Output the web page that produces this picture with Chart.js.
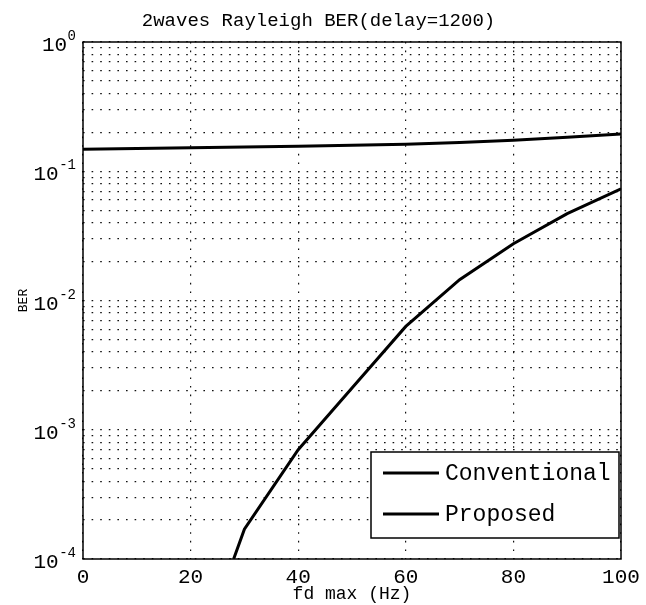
<!DOCTYPE html>
<html><head><meta charset="utf-8">
<script src="https://cdn.jsdelivr.net/npm/chart.js@4"></script>
<style>html,body{margin:0;padding:0;background:#fff}canvas{display:block}</style>
</head><body>
<canvas id="c" width="646" height="605"></canvas>
<script>
const titleText = '2waves Rayleigh BER(delay=1200)';
const xTitle = 'fd max (Hz)';
const yTitle = 'BER';
const seriesNames = ['Conventional', 'Proposed'];
const fdConv = [0, 10, 20, 30, 40, 50, 60, 70, 80, 90, 100];
const berConv = [0.148, 0.150, 0.152, 0.154, 0.156, 0.159, 0.162, 0.167, 0.174, 0.183, 0.194];
const fdProp = [28, 30, 40, 50, 60, 70, 80, 90, 100];
const berProp = [1.0e-4, 1.7e-4, 7.0e-4, 2.1e-3, 6.3e-3, 1.45e-2, 2.75e-2, 4.7e-2, 7.3e-2];
const xTicks = [0, 20, 40, 60, 80, 100];
const yDecades = [1e-4, 1e-3, 1e-2, 1e-1, 1];
const yTickBase = '10';
const yTickExp = ['-4', '-3', '-2', '-1', '0'];

const MONO = '"Liberation Mono", "Courier New", monospace';

const frame = {
  id: 'frame',
  afterDatasetsDraw(chart) {
    const {ctx, chartArea: a} = chart;
    ctx.save();
    ctx.strokeStyle = '#000';
    ctx.lineWidth = 1.5;
    ctx.strokeRect(a.left, a.top, a.right - a.left, a.bottom - a.top);
    ctx.restore();
  }
};

// y tick labels drawn as "10" with a raised exponent, positioned by the log scale
const powerLabels = {
  id: 'powerLabels',
  afterDraw(chart) {
    const {ctx, chartArea: a} = chart;
    const ys = chart.scales.y;
    ctx.save();
    ctx.fillStyle = '#000';
    ctx.textBaseline = 'middle';
    ctx.textAlign = 'right';
    yDecades.forEach((d, i) => {
      const py = ys.getPixelForValue(d);
      const ex = yTickExp[i];
      ctx.font = '14px ' + MONO;
      const ew = ctx.measureText(ex).width;
      const expRight = a.left - 7;
      ctx.fillText(ex, expRight, py - 5.5);
      ctx.font = '21px ' + MONO;
      ctx.fillText(yTickBase, expRight - ew - 0.5, py + 3.5);
    });
    ctx.restore();
  }
};

const boxLegend = {
  id: 'boxLegend',
  afterDraw(chart) {
    const {ctx, chartArea: a} = chart;
    const w = 248, h = 86;
    const x = a.right - 2 - w, y = a.bottom - 21 - h;
    ctx.save();
    ctx.fillStyle = '#fff';
    ctx.fillRect(x, y, w, h);
    ctx.strokeStyle = '#000';
    ctx.lineWidth = 1.5;
    ctx.strokeRect(x, y, w, h);
    ctx.font = '23px ' + MONO;
    ctx.textBaseline = 'middle';
    ctx.fillStyle = '#000';
    chart.data.datasets.forEach((ds, i) => {
      const ry = y + 21 + i * 41;
      ctx.beginPath();
      ctx.moveTo(x + 12, ry);
      ctx.lineTo(x + 68, ry);
      ctx.lineWidth = 3;
      ctx.strokeStyle = ds.borderColor;
      ctx.stroke();
      ctx.fillText(ds.label, x + 74, ry + 1);
    });
    ctx.restore();
  }
};

new Chart(document.getElementById('c'), {
  type: 'line',
  data: {
    datasets: [
      {
        label: seriesNames[0],
        data: fdConv.map((f, i) => ({x: f, y: berConv[i]})),
        borderColor: '#000', borderWidth: 3, pointRadius: 0, tension: 0, fill: false
      },
      {
        label: seriesNames[1],
        data: fdProp.map((f, i) => ({x: f, y: berProp[i]})),
        borderColor: '#000', borderWidth: 3, pointRadius: 0, tension: 0, fill: false
      }
    ]
  },
  options: {
    responsive: false,
    animation: false,
    devicePixelRatio: 1,
    layout: {padding: {left: 16, right: 25, top: 0, bottom: 0}},
    plugins: {
      legend: {display: false},
      tooltip: {enabled: false},
      title: {
        display: true, text: titleText, color: '#000',
        font: {family: MONO, size: 19, weight: 'normal'},
        padding: {top: 10, bottom: 9.2}
      }
    },
    scales: {
      x: {
        type: 'linear', min: 0, max: 100,
        afterBuildTicks: s => { s.ticks = xTicks.map(v => ({value: v})); },
        afterFit: s => { s.height = 46; },
        ticks: {color: '#000', font: {family: MONO, size: 21}, padding: 6, maxRotation: 0},
        grid: {color: '#111', lineWidth: 1.2, drawTicks: false},
        border: {display: false, dash: [1.6, 7]},
        title: {display: true, text: xTitle, color: '#000', font: {family: MONO, size: 18}, padding: {top: 0, bottom: 0}}
      },
      y: {
        type: 'logarithmic', min: 1e-4, max: 1,
        afterBuildTicks: s => {
          const t = [];
          for (let e = -4; e < 0; e++) for (let m = 1; m <= 9; m++) t.push({value: m * Math.pow(10, e)});
          t.push({value: 1});
          s.ticks = t;
        },
        afterFit: s => { s.width = 67; },
        ticks: {display: false},
        grid: {color: '#111', lineWidth: 1.2, drawTicks: false},
        border: {display: false, dash: [1.6, 7]},
        title: {display: true, text: yTitle, color: '#000', font: {family: MONO, size: 13}, padding: {top: 0, bottom: 0}}
      }
    }
  },
  plugins: [frame, powerLabels, boxLegend]
});
</script>
</body></html>
